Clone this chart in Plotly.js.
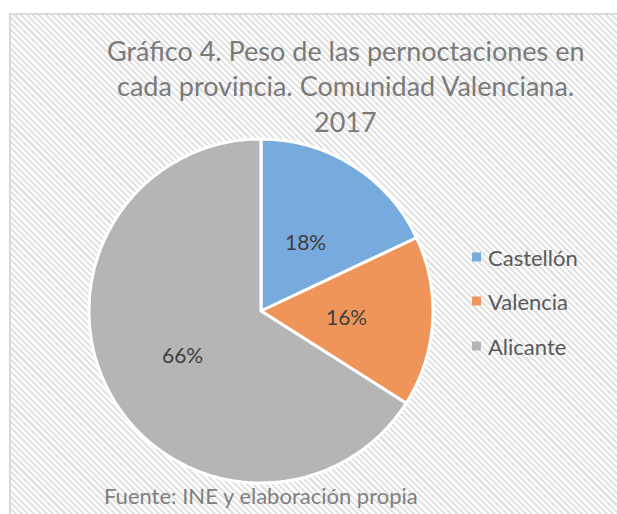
<!DOCTYPE html>
<html>
<head>
<meta charset="utf-8">
<script src="https://cdn.plot.ly/plotly-3.0.1.min.js"></script>
<style>
html,body{margin:0;padding:0;background:#fff;}
#wrap{position:absolute;left:0;top:0;width:617px;height:514px;}
#bg{position:absolute;left:9px;top:13px;width:608px;height:501px;
border-left:2px solid #d9d9d9;border-top:2px solid #d9d9d9;box-sizing:border-box;
background:repeating-linear-gradient(45deg,#ffffff 0px,#ffffff 2.2px,#e3e3e3 2.2px,#e3e3e3 4.4px);}
#chart{position:absolute;left:0;top:0;width:617px;height:514px;}
</style>
</head>
<body>
<div id="wrap"><div id="bg"></div><div id="chart"></div></div>
<script>
var titleLines = ["Gráfico 4. Peso de las pernoctaciones en", "cada provincia. Comunidad Valenciana.", "2017"];
var labels = ["Castellón", "Valencia", "Alicante"];
var values = [18, 16, 66];
var colors = ["#77aadd", "#f0955a", "#b5b5b5"];
var footer = "Fuente: INE y elaboración propia";

var W = 617, H = 514;
function px(x){return x/W;}
function py(y){return 1 - y/H;}

// pie geometry (pixels)
var cx = 261, cy = 311, R = 172;

var trace = {
  type: "pie",
  labels: labels,
  values: values,
  sort: false,
  direction: "clockwise",
  rotation: 0,
  marker: {colors: colors, line: {color: "#ffffff", width: 3}},
  textinfo: "none",
  hoverinfo: "label+percent",
  showlegend: false,
  domain: {x: [px(cx - R), px(cx + R)], y: [py(cy + R), py(cy - R)]}
};

var annotations = [];
var titleY = [51, 86, 121];
titleLines.forEach(function(t, i){
  annotations.push({text: t, x: px(345), y: py(titleY[i]), xref: "paper", yref: "paper",
    xanchor: "center", yanchor: "middle", showarrow: false,
    font: {family: "Lato, sans-serif", size: 27, color: "#7a7a7a"}});
});
annotations.push({text: footer, x: px(102), y: py(495), xref: "paper", yref: "paper",
  xanchor: "left", yanchor: "middle", showarrow: false,
  font: {family: "Lato, sans-serif", size: 22, color: "#7f7f7f"}});

// percentage labels placed along each slice bisector (Excel-style, ~0.5 R)
var total = values.reduce(function(a, b){return a + b;}, 0);
var cum = 0;
var radFrac = [0.48, 0.5, 0.52];
values.forEach(function(v, i){
  var mid = (cum + v / 2) / total * 2 * Math.PI;
  cum += v;
  var r = R * radFrac[i];
  var x = cx + r * Math.sin(mid), y = cy - r * Math.cos(mid);
  annotations.push({text: Math.round(v / total * 100) + "%", x: px(x), y: py(y),
    xref: "paper", yref: "paper", xanchor: "center", yanchor: "middle", showarrow: false,
    font: {family: "Lato, sans-serif", size: 21, color: "#404040"}});
});

var shapes = [];
var legY = [257, 301, 346];
labels.forEach(function(l, i){
  shapes.push({type: "rect", xref: "paper", yref: "paper",
    x0: px(472), x1: px(481), y0: py(legY[i] - 4.5), y1: py(legY[i] + 4.5),
    fillcolor: colors[i], line: {width: 0}});
  annotations.push({text: l, x: px(486), y: py(legY[i]), xref: "paper", yref: "paper",
    xanchor: "left", yanchor: "middle", showarrow: false,
    font: {family: "Lato, sans-serif", size: 22, color: "#595959"}});
});

var layout = {
  width: W, height: H,
  margin: {l: 0, r: 0, t: 0, b: 0},
  paper_bgcolor: "rgba(0,0,0,0)",
  plot_bgcolor: "rgba(0,0,0,0)",
  showlegend: false,
  annotations: annotations,
  shapes: shapes
};

Plotly.newPlot("chart", [trace], layout, {displayModeBar: false, staticPlot: true});
</script>
</body>
</html>
